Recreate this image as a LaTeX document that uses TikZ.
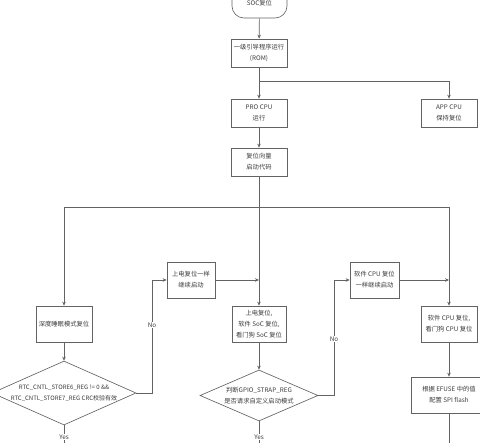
\documentclass[tikz,border=0pt]{standalone}
\usepackage{fontspec}
\setmainfont{Noto Sans CJK SC}
\usetikzlibrary{shapes.geometric,arrows.meta}
\definecolor{ln}{HTML}{636363}
\definecolor{tx}{HTML}{3A3A3A}
\begin{document}
\begin{tikzpicture}[x=1pt,y=1pt,
  every node/.style={font=\fontsize{6.3}{11}\selectfont, text=tx},
  box/.style={draw=ln, line width=0.65pt, rectangle, align=center, inner sep=1pt},
  term/.style={box, rounded corners=12pt},
  dia/.style={draw=ln, line width=0.65pt, diamond, inner sep=0pt},
  txt/.style={align=center, inner sep=0pt},
  lab/.style={fill=white, inner sep=1pt},
  conn/.style={draw=ln, line width=0.65pt},
  arr/.style={conn, -{Stealth[length=4pt,width=3.5pt]}}]
\useasboundingbox (0,0) rectangle (480,-443);
% nodes
\node[term, minimum width=55, minimum height=30] (soc) at (259.5,-3) {\raisebox{-4pt}{SOC复位}};
\node[box, minimum width=56, minimum height=28] (rom) at (259,-53) {一级引导程序运行\\(ROM)};
\node[box, minimum width=56, minimum height=28] (pro) at (259,-113) {PRO CPU\\运行};
\node[box, minimum width=56, minimum height=28] (app) at (449,-113) {APP CPU\\保持复位};
\node[box, minimum width=56, minimum height=28] (vec) at (259,-162) {复位向量\\启动代码};
\node[box, minimum width=56, minimum height=36] (deep) at (64,-324) {深度睡眠模式复位};
\node[box, minimum width=48, minimum height=36] (pwr) at (191,-280) {上电复位一样\\继续启动};
\node[box, minimum width=54, minimum height=36] (socr) at (259,-324) {上电复位,\\软件 SoC 复位,\\看门狗 SoC 复位};
\node[box, minimum width=49, minimum height=36] (sw1) at (374.5,-280) {软件 CPU 复位\\一样继续启动};
\node[box, minimum width=56, minimum height=36] (sw2) at (449,-324) {软件 CPU 复位,\\看门狗 CPU 复位};
\node[box, minimum width=76, minimum height=36] (efuse) at (449,-395) {根据 EFUSE 中的值\\配置 SPI flash};
\node[dia, minimum width=144, minimum height=64] (d1) at (64,-393) {};
\node[txt, font=\fontsize{6.0}{11}\selectfont] (d1t) at (d1.center) {RTC\_CNTL\_STORE6\_REG != 0 \&\&\\RTC\_CNTL\_STORE7\_REG CRC校验有效};
\node[dia, minimum width=118, minimum height=51] (d2) at (259,-395.5) {};
\node[txt] (d2t) at (d2.center) {判断GPIO\_STRAP\_REG\\是否请求自定义启动模式};
% helper coordinates
\coordinate (b1) at (259,-81);
\coordinate (b1r) at (449,-81);
\coordinate (b2) at (259,-207);
\coordinate (b2l) at (64,-207);
\coordinate (b2r) at (449,-207);
\coordinate (n1a) at (152,-393);
\coordinate (n1b) at (152,-280);
\coordinate (j1) at (259,-280);
\coordinate (n2a) at (334,-395.5);
\coordinate (n2b) at (334,-280);
\coordinate (j2) at (449,-280);
\coordinate (e1) at (64,-443);
\coordinate (e2) at (259,-443);
\coordinate (e3) at (449,-443);
% connectors
\draw[arr] (soc) -- (rom);
\draw[arr] (rom) -- (pro);
\draw[arr] (b1) -- (b1r) -- (app);
\draw[arr] (pro) -- (vec);
\draw[arr] (vec) -- (socr);
\draw[arr] (b2) -- (b2l) -- (deep);
\draw[arr] (b2) -- (b2r) -- (sw2);
\draw[arr] (deep) -- (d1);
\draw[arr] (d1.east) -- (n1a) -- (n1b) -- (pwr);
\draw[arr] (pwr) -- (j1);
\draw[arr] (socr) -- (d2);
\draw[arr] (d2.east) -- (n2a) -- (n2b) -- (sw1);
\draw[arr] (sw1) -- (j2);
\draw[arr] (sw2) -- (efuse);
\draw[conn] (d1.south) -- (e1);
\draw[conn] (d2.south) -- (e2);
\draw[conn] (efuse) -- (e3);
% labels
\node[lab] (no1) at (152,-325) {No};
\node[lab] (no2) at (334,-339) {No};
\node[lab] (yes1) at (64,-437) {Yes};
\node[lab] (yes2) at (259,-437) {Yes};
\end{tikzpicture}
\end{document}
